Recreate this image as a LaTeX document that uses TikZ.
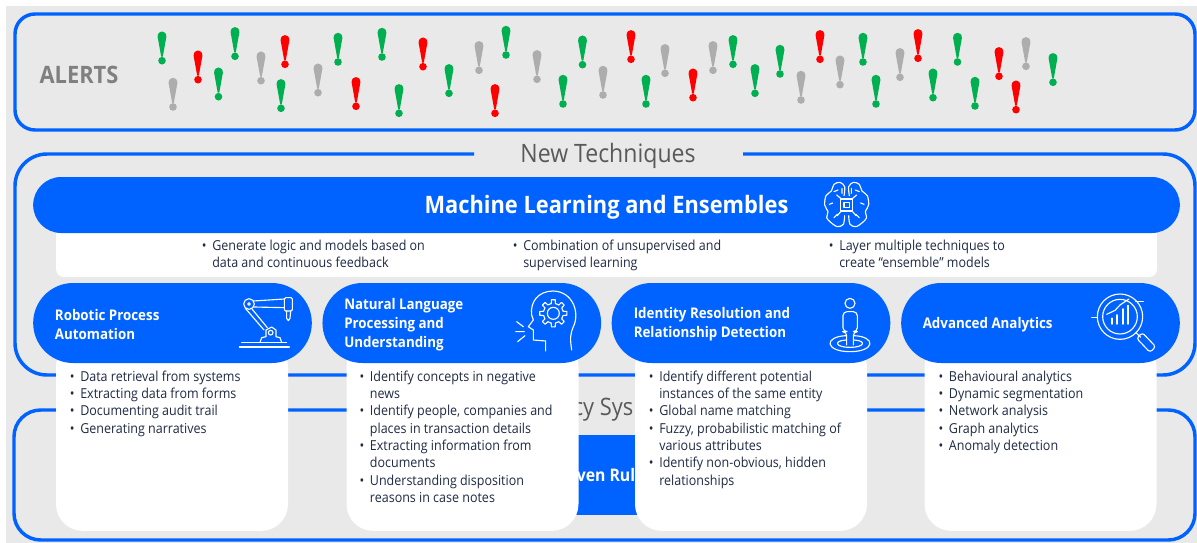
\documentclass[tikz,border=0pt]{standalone}
\usepackage{fontspec}
\setmainfont[FakeStretch=0.91]{Open Sans}
\usetikzlibrary{positioning, calc}
\definecolor{myblue}{HTML}{0062FF}
\definecolor{mybg}{HTML}{E9E9E9}
\definecolor{mygreen}{HTML}{00B050}
\definecolor{myred}{HTML}{FF0000}
\definecolor{mygrey}{HTML}{ADADAD}
\definecolor{mytext}{HTML}{1F2A44}
\newcommand{\bl}{\llap{\textbullet\hspace{4.2pt}}}
\tikzset{
  frame/.style={draw=myblue,line width=2.6pt},
  pill/.style={fill=myblue,rounded corners=30pt,minimum width=209pt,minimum height=60pt,inner sep=0},
  card/.style={fill=white,rounded corners=20pt,minimum width=174pt,minimum height=143pt,inner sep=0},
  my text/.style={text=mytext,font=\fontsize{10.3}{13}\selectfont,align=left,inner sep=0,anchor=north west},
  pill text/.style={text=white,font=\fontsize{11}{14.3}\selectfont\bfseries,align=left,inner sep=0,anchor=west},
  title text/.style={text=black!65,font=\fontsize{19}{21}\selectfont,inner sep=0},
  icon/.style={draw=white,line width=0.85pt,line cap=round,line join=round},
  alertmark/.pic={
    \fill (0,0) circle (3.8);
    \fill (-0.8,-4) -- (-4.4,-24) .. controls (-4.4,-31) and (4.4,-31) .. (4.4,-24) -- (0.8,-4) -- cycle;
  }
}
\begin{document}
\begin{tikzpicture}[x=0.75pt,y=-0.75pt]
\useasboundingbox (0,0) rectangle (1197,543);
\fill[mybg] (6,6) rectangle (1197,543);

% frames
\draw[frame,rounded corners=15pt] (15,14) rectangle (1195,130);
\draw[frame,rounded corners=24pt] (474,154) -- (15,154) -- (15,375) -- (1195,375) -- (1195,154) -- (743,154);
\draw[frame,rounded corners=20pt] (500,410) -- (14,410) -- (14,540) -- (1195,540) -- (1195,410) -- (700,410);
\node[title text,text=black!50,font=\fontsize{18}{20}\selectfont\bfseries] (alerts) at (79,74.5) {ALERTS};
\node[title text] (newtech) at (608,156) {New Techniques};
\node[title text,font=\fontsize{18}{20}\selectfont] (legacy) at (603,410) {cy Sys};
\fill[myblue] (560,435) rectangle (650,515);
\node[text=white,font=\fontsize{13}{15}\selectfont\bfseries,inner sep=0] (driven) at (606,475) {ven Rul};

% alerts
\foreach\x/\y/\c in {162/60.7/green,173/107/grey,198/79.7/red,218.5/96.7/green,235/56.3/green,261/80.7/grey,
  285/64.3/red,281/108.3/green,318/92.7/grey,338/62/green,356/106.3/red,382/57/green,399/113.3/green,
  423/66.7/red,449/93.3/green,479/70.3/grey,495/113.3/red,506/55/green,537/79.3/grey,563/104/green,
  582.5/64.7/green,603/95/grey,631/59.3/red,646/104/green,665/73.3/grey,693/97.7/red,713/70.3/grey,
  733/64.3/green,755/93.3/green,780/74/green,801/100/grey,820/59.3/red,840/84.7/grey,863/62/green,
  876/104/green,900/77.3/grey,918/58.3/red,933/97.7/green,957.5/62/green,975/106/green,999/76.3/red,
  1026/66.3/grey,1016/109.7/red,1053/82.3/green}
  \pic[color=my\c] at (\x,\y) {alertmark};

% cards and headers
\foreach\n/\x in {rpa/172,nlp/462.5,irr/751,adv/1040.5}
  \node[card] (c\n) at (\x,435.5) {};
\foreach\n/\x in {rpa/172.5,nlp/461.8,irr/751,adv/1040.5}
  \node[pill] (h\n) at (\x,323) {};
\fill[white,rounded corners=6pt] (56,220) rectangle (1157,277);
\node[fill=myblue,rounded corners=21pt,minimum width=860pt,minimum height=42pt,inner sep=0] (ml) at (606.5,205) {};
\node[text=white,font=\fontsize{18}{20}\selectfont\bfseries,inner sep=0] (mltext) at (606.5,207) {Machine Learning and Ensembles};

\node[my text] (s1) at (212,239.5) {\bl Generate logic and models based on\\data and continuous feedback};
\node[my text] (s2) at (523,239.5) {\bl Combination of unsupervised and\\supervised learning};
\node[my text] (s3) at (839,239.5) {\bl Layer multiple techniques to\\create “ensemble” models};

\node[pill text] (trpa) at (54.7,324.5) {Robotic Process\\Automation};
\node[pill text] (tnlp) at (344,324.5) {Natural Language\\Processing and\\Understanding};
\node[pill text] (tirr) at (633.5,324.5) {Identity Resolution and\\Relationship Detection};
\node[pill text] (tadv) at (922.5,324.5) {Advanced Analytics};

\node[my text] (lrpa) at (80,370.5) {\bl Data retrieval from systems\\\bl Extracting data from forms\\\bl Documenting audit trail\\\bl Generating narratives};
\node[my text] (lnlp) at (369.7,370.5) {\bl Identify concepts in negative\\news\\\bl Identify people, companies and\\places in transaction details\\\bl Extracting information from\\documents\\\bl Understanding disposition\\reasons in case notes};
\node[my text] (lirr) at (659,370.5) {\bl Identify different potential\\instances of the same entity\\\bl Global name matching\\\bl Fuzzy, probabilistic matching of\\various attributes\\\bl Identify non-obvious, hidden\\relationships};
\node[my text] (ladv) at (948.7,370.5) {\bl Behavioural analytics\\\bl Dynamic segmentation\\\bl Network analysis\\\bl Graph analytics\\\bl Anomaly detection};

% robot
\begin{scope}[shift={(230,285)},x=0.25pt,y=-0.25pt]
  \draw[icon] (35,172) -- (170,172) (28,186) -- (178,186);
  \draw[icon] (57,57) circle (16) (57,57) circle (4);
  \draw[icon] (70,48) -- (163,42) (72,66) -- (163,68);
  \draw[icon] (46,70) -- (102,135) (66,72) -- (112,128);
  \draw[icon] (90,172) -- (95,158) -- (108,155) -- (108,135) -- (125,126) -- (138,135) -- (138,155) -- (150,158) -- (155,172);
  \draw[icon] (122,143) circle (7);
  \draw[icon,rounded corners=1pt] (163,38) rectangle (187,78);
  \draw[icon] (170,78) -- (170,100) -- (175,107) -- (180,100) -- (182,78);
\end{scope}

% head
\begin{scope}[shift={(505,285)},x=0.25pt,y=-0.25pt]
  \draw[icon] (200,195) .. controls (195,160) and (195,150) .. (205,125)
    .. controls (225,85) and (205,20) .. (145,18)
    .. controls (100,18) and (75,50) .. (80,90) -- (85,105) -- (70,125) -- (85,135) -- (85,165) -- (122,168) -- (122,198);
  \begin{scope}[shift={(145,85)}]
    \draw[icon] (0,0) circle (18);
    \foreach\a in {0,45,...,315}
      \draw[icon] (\a-12:30) -- (\a-8:41) -- (\a+8:41) -- (\a+12:30) -- (\a+33:30);
  \end{scope}
  \draw[icon] (35,110) -- (55,125) (32,140) -- (58,140) (38,170) -- (60,152);
\end{scope}

% person
\begin{scope}[shift={(810,290)},x=0.25pt,y=-0.25pt]
  \draw[icon] (120,40) circle (15);
  \draw[icon,rounded corners=3pt] (110,165) -- (110,125) -- (99,125) -- (99,65) -- (142,65) -- (142,125) -- (130,125) -- (130,165);
  \draw[icon] (108,137) .. controls (40,140) and (45,185) .. (120,185) .. controls (195,185) and (200,140) .. (132,137);
  \draw[icon] (108,150) .. controls (70,152) and (75,172) .. (120,172) .. controls (165,172) and (170,152) .. (132,150);
\end{scope}

% magnifier
\begin{scope}[shift={(1085,285)},x=0.25pt,y=-0.25pt]
  \draw[icon] (105,95) circle (68) (105,95) circle (52);
  \draw[icon] (20,98) -- (37,98) (152,50) -- (175,50);
  \draw[icon] (152,142) -- (167,157);
  \draw[icon,rounded corners=2pt] (155,160) -- (172,143) -- (212,185) -- (195,202) -- cycle;
  \draw[icon] (65,88) -- (90,76) -- (105,60) -- (132,42);
  \foreach\x/\h in {80/100,95/90,113/72,128/62}
    \draw[icon,line width=1.3pt] (\x,117) -- (\x,\h);
\end{scope}

% brain
\begin{scope}[shift={(810,175)},x=0.25pt,y=-0.25pt]
  \foreach\s in {1,-1}
  {
    \begin{scope}[shift={(110,0)},xscale=\s]
      \draw[icon] plot[smooth] coordinates {(-8,62) (-6,35) (-20,22) (-38,28) (-46,48) (-62,62) (-66,90) (-56,110) (-60,128) (-48,142) (-28,155) (-10,148) (-6,122)};
      \draw[icon] (-38,50) -- (-26,45) (-52,88) -- (-42,84) (-38,128) -- (-28,118) (-18,70) -- (-30,60) (-18,110) -- (-28,122) (-14,40) -- (-14,55);
    \end{scope}
  }
  \draw[icon] (92,72) rectangle (128,108) (102,82) rectangle (118,98);
\end{scope}
\end{tikzpicture}
\end{document}
